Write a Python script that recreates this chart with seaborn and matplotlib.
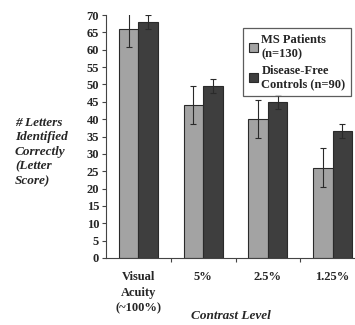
import matplotlib
matplotlib.use("Agg")
import matplotlib.pyplot as plt
import seaborn as sns
import pandas as pd
import numpy as np

categories = ["Visual\nAcuity\n(~100%)", "5%", "2.5%", "1.25%"]
groups = ["MS Patients\n(n=130)", "Disease-Free\nControls (n=90)"]
ms_scores = [66.0, 44.0, 40.0, 26.0]
ms_err = [5.2, 5.5, 5.5, 5.6]
ctrl_scores = [68.0, 49.5, 45.0, 36.5]
ctrl_err = [2.0, 2.0, 2.0, 2.0]
yticks = list(range(0, 75, 5))

df = pd.DataFrame({
    "level": categories * 2,
    "group": [groups[0]] * 4 + [groups[1]] * 4,
    "score": ms_scores + ctrl_scores,
})

sns.set_theme(style="white")
plt.rcParams["font.family"] = ["Liberation Serif", "DejaVu Serif"]
plt.rcParams["font.weight"] = "bold"

fig = plt.figure(figsize=(3.55, 3.25), dpi=100)
ax = fig.add_axes([106 / 355, 1 - 258 / 325, 259 / 355, 243 / 325])

palette = {groups[0]: "#a3a3a3", groups[1]: "#3e3e3e"}
sns.barplot(data=df, x="level", y="score", hue="group", order=categories,
            hue_order=groups, palette=palette, width=0.6, errorbar=None,
            edgecolor="#2a2a2a", linewidth=0.8, saturation=1, ax=ax)

# error bars at the centre of each drawn bar
errs = ms_err + ctrl_err
vals = ms_scores + ctrl_scores
for patch, v, e in zip(ax.patches[:8], vals, errs):
    cx = patch.get_x() + patch.get_width() / 2
    ax.errorbar(cx, v, yerr=e, fmt="none", ecolor="#2a2a2a",
                elinewidth=0.8, capsize=2.2, capthick=0.8)

ax.set_xlim(-0.5, 3.5)
ax.set_ylim(0, 70)
ax.set_yticks(yticks)
ax.set_yticklabels([str(t) for t in yticks], fontsize=9, fontweight="bold")
ax.set_xticks(range(4))
ax.set_xticklabels(categories, fontsize=9, fontweight="bold", linespacing=1.45)
ax.set_xticks([0.5, 1.5, 2.5], minor=True)
ax.tick_params(axis="x", which="major", length=0, pad=9)
ax.tick_params(axis="x", which="minor", length=3, width=0.8, color="#444444",
               direction="out", bottom=True)
ax.tick_params(axis="y", length=3, width=0.8, color="#444444",
               direction="out", left=True, pad=2)
ax.set_xlabel("")
ax.set_ylabel("")
for s in ["top", "right"]:
    ax.spines[s].set_visible(False)
for s in ["left", "bottom"]:
    ax.spines[s].set_color("#444444")
    ax.spines[s].set_linewidth(0.8)

leg = ax.legend(loc="upper left", bbox_to_anchor=(237 / 355, 1 - 22 / 325),
                bbox_transform=fig.transFigure, frameon=True,
                prop={"size": 9, "weight": "bold"}, handlelength=0.7,
                handleheight=0.7, handletextpad=0.3, borderpad=0.45,
                labelspacing=0.35, fancybox=False)
leg.get_frame().set_edgecolor("#333333")
leg.get_frame().set_linewidth(0.9)
for t in leg.get_texts():
    t.set_multialignment("left")
    t.set_linespacing(1.25)

fig.text(15 / 355, 1 - 152 / 325,
         "# Letters\nIdentified\nCorrectly\n(Letter\nScore)",
         ha="left", va="center", fontsize=9.5, fontweight="bold",
         fontstyle="italic", linespacing=1.3)
fig.text(231 / 355, 1 - 316 / 325, "Contrast Level", ha="center",
         va="center", fontsize=9.5, fontweight="bold", fontstyle="italic")

fig.savefig("out.png", dpi=100)
